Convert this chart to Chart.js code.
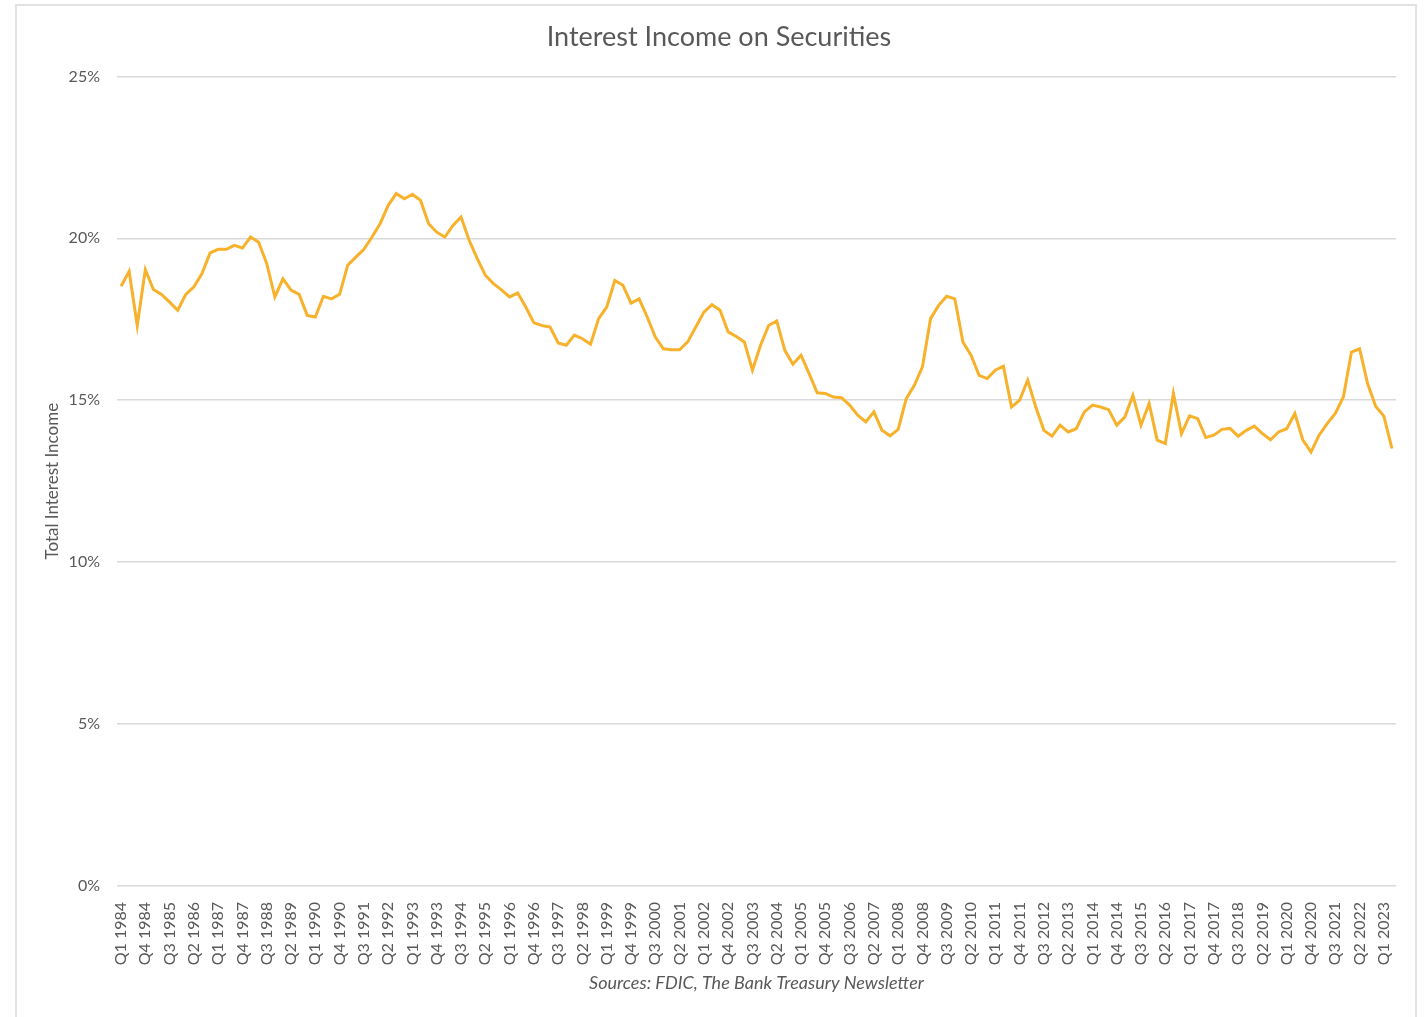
<!DOCTYPE html>
<html>
<head>
<meta charset="utf-8">
<script src="https://cdn.jsdelivr.net/npm/chart.js@4.4.0/dist/chart.umd.min.js"></script>
<style>
  html, body { margin: 0; padding: 0; background: #fff; }
  #frame {
    position: absolute; left: 15px; top: 4px; width: 1402px; height: 1030px;
    border: 2px solid #e3e3e3; box-sizing: border-box;
  }
  #wrap { position: absolute; left: 0; top: 0; width: 1427px; height: 1017px; }
</style>
</head>
<body>
<div id="frame"></div>
<div id="wrap"><canvas id="chart" width="1427" height="1017"></canvas></div>
<script>
// quarterly series, Q1 1984 .. Q2 2023
const startYear = 1984;
const quarterCount = 158;
const labelEvery = 3;

const incomeShare = [
  18.52, 18.98, 17.31, 19.03, 18.42, 18.27, 18.03, 17.78, 18.27, 18.50,
  18.91, 19.55, 19.66, 19.66, 19.78, 19.70, 20.04, 19.88, 19.22, 18.19,
  18.75, 18.40, 18.27, 17.62, 17.57, 18.21, 18.13, 18.27, 19.17, 19.42,
  19.66, 20.04, 20.45, 21.02, 21.38, 21.22, 21.36, 21.17, 20.45, 20.19,
  20.04, 20.40, 20.66, 19.94, 19.37, 18.86, 18.60, 18.41, 18.19, 18.31,
  17.88, 17.39, 17.31, 17.26, 16.77, 16.70, 17.01, 16.90, 16.73, 17.52,
  17.88, 18.70, 18.55, 18.00, 18.13, 17.57, 16.95, 16.59, 16.56, 16.56,
  16.80, 17.26, 17.72, 17.95, 17.78, 17.11, 16.97, 16.80, 15.93, 16.70,
  17.31, 17.45, 16.54, 16.11, 16.39, 15.82, 15.23, 15.21, 15.10, 15.08,
  14.85, 14.54, 14.33, 14.64, 14.07, 13.90, 14.10, 15.05, 15.46, 16.03,
  17.52, 17.93, 18.21, 18.13, 16.80, 16.39, 15.77, 15.67, 15.93, 16.05,
  14.79, 15.00, 15.62, 14.79, 14.07, 13.89, 14.23, 14.02, 14.12, 14.64,
  14.85, 14.79, 14.71, 14.23, 14.48, 15.15, 14.23, 14.90, 13.77, 13.66,
  15.21, 13.97, 14.52, 14.43, 13.85, 13.92, 14.10, 14.13, 13.89, 14.07,
  14.20, 13.97, 13.78, 14.02, 14.12, 14.59, 13.77, 13.40, 13.92, 14.28,
  14.59, 15.10, 16.49, 16.59, 15.51, 14.81, 14.51, 13.51
];

const quarters = [];
for (let i = 0; i < quarterCount; i++) {
  const q = (i % 4) + 1;
  const y = startYear + Math.floor(i / 4);
  quarters.push('Q' + q + ' ' + y);
}

const yTicks = [0, 5, 10, 15, 20, 25];

const fontFamily = 'Lato, "Open Sans", sans-serif';
const grey = '#595959';

const config = {
  type: 'line',
  data: {
    labels: quarters,
    datasets: [
      {
        label: 'Total Interest Income',
        data: incomeShare,
        borderColor: '#F7B12A',
        borderWidth: 3,
        pointRadius: 0,
        tension: 0,
        fill: false,
      },
    ],
  },
  options: {
    responsive: false,
    animation: false,
    layout: {
      padding: { left: 42, right: 31, top: 21, bottom: 23 },
    },
    plugins: {
      legend: { display: false },
      tooltip: { enabled: false },
      title: {
        display: true,
        text: 'Interest Income on Securities',
        color: grey,
        font: { family: fontFamily, size: 27, weight: 'normal' },
        padding: { top: 0, bottom: 23 },
      },
    },
    scales: {
      x: {
        offset: true,
        grid: { display: false },
        border: { display: false },
        afterFit: function (axis) {
          axis.height = 108;
        },
        title: {
          display: true,
          text: 'Sources: FDIC, The Bank Treasury Newsletter',
          color: grey,
          font: { family: fontFamily, size: 18, style: 'italic' },
          padding: { top: 4, bottom: 0 },
        },
        ticks: {
          autoSkip: false,
          maxRotation: 90,
          minRotation: 90,
          padding: 8,
          color: grey,
          font: { family: fontFamily, size: 16 },
          callback: function (value, index) {
            return index % labelEvery === 0 ? quarters[index] : null;
          },
        },
      },
      y: {
        min: 0,
        max: 25,
        afterBuildTicks: function (axis) {
          axis.ticks = yTicks.map(function (v) { return { value: v }; });
        },
        afterFit: function (axis) {
          axis.width = 75;
        },
        grid: { color: '#d9d9d9', lineWidth: 1.5, drawTicks: false },
        border: { display: false },
        title: {
          display: true,
          text: 'Total Interest Income',
          color: grey,
          font: { family: fontFamily, size: 17 },
          padding: { top: 0, bottom: 0 },
        },
        ticks: {
          padding: 17,
          color: grey,
          font: { family: fontFamily, size: 16 },
          callback: function (value) {
            return value + '%';
          },
        },
      },
    },
  },
};

new Chart(document.getElementById('chart').getContext('2d'), config);
</script>
</body>
</html>
